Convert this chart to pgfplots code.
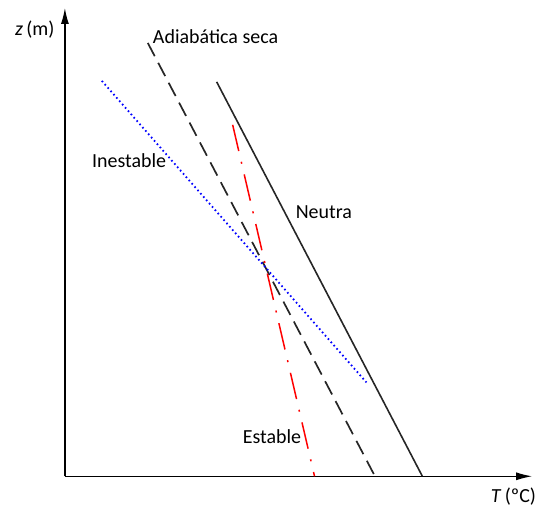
\documentclass[border=0pt]{standalone}
\usepackage{pgfplots}
\pgfplotsset{compat=1.18}
\usetikzlibrary{arrows.meta}
\usepackage{fontspec}
\setmainfont{Carlito}
\begin{document}
\begin{tikzpicture}[x=1pt,y=1pt]
\begin{axis}[
  scale only axis,
  width=468pt, height=469pt,
  xmin=65, xmax=533, ymin=31, ymax=500,
  axis lines=left,
  axis line style={line width=1.4pt, -{Latex[length=16pt,width=8pt]}},
  xtick=\empty, ytick=\empty,
  clip=false,
]
\path (0,0) rectangle (536,508);
% Adiabatica seca (dashed)
\addplot[black!85, line width=1.7pt, dash pattern=on 15pt off 7.5pt] coordinates {(148,465) (375,32)};
% Neutra (solid)
\addplot[black!85, line width=1.6pt] coordinates {(217,426) (423,31)};
% Inestable (dotted blue)
\addplot[blue, line width=1.8pt, dash pattern=on 1.6pt off 2.8pt] coordinates {(102,427) (367,125)};
% Estable (dash-dot red)
\addplot[red, line width=1.5pt, dash pattern=on 27pt off 11pt on 2pt off 11pt] coordinates {(233,383) (315,31)};
\node[anchor=west, inner sep=0pt, font=\fontsize{20}{22}\selectfont] at (153,471) {Adiabática seca};
\node[anchor=west, inner sep=0pt, font=\fontsize{20}{22}\selectfont] at (92,347) {Inestable};
\node[anchor=west, inner sep=0pt, font=\fontsize{20}{22}\selectfont] at (296,296) {Neutra};
\node[anchor=west, inner sep=0pt, font=\fontsize{20}{22}\selectfont] at (243,71) {Estable};
\node[anchor=west, inner sep=0pt, font=\fontsize{20}{22}\selectfont] at (15,478) {\textit{z}\,(m)};
\node[anchor=east, inner sep=0pt, font=\fontsize{20}{22}\selectfont] at (537,11) {\textit{T}\,(ºC)};
\end{axis}
\end{tikzpicture}
\end{document}
